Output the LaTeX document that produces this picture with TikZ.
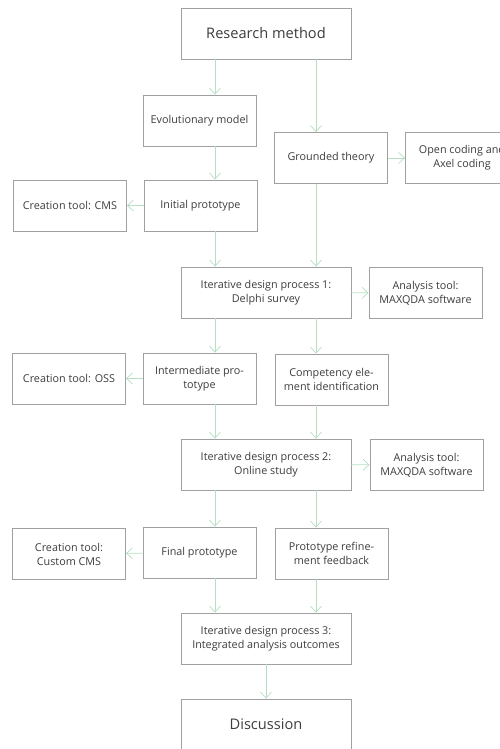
\documentclass[tikz,border=0pt]{standalone}
\usepackage{fontspec}
\setmainfont{Open Sans}
\usetikzlibrary{arrows.meta}
\definecolor{boxgray}{HTML}{A0A0A0}
\definecolor{textgray}{HTML}{3C3C3C}
\definecolor{arrgreen}{HTML}{B6DEC2}
\begin{document}
\begin{tikzpicture}[x=1pt,y=-1pt,
  box/.style={draw=boxgray,line width=.9pt,text=textgray,align=center,
    font=\fontsize{10.8}{14}\selectfont,inner sep=0pt,
    minimum width=113pt,minimum height=51pt},
  widebox/.style={box,minimum width=170pt},
  bigbox/.style={widebox,font=\fontsize{14.6}{17}\selectfont},
  arr/.style={draw=arrgreen,line width=.7pt,-{Straight Barb[length=6pt,width=11pt]}}]
\useasboundingbox (0,0) rectangle (500,749);
\coordinate (lcol) at (215,0);
\coordinate (rcol) at (316,0);
\node [bigbox] (rm) at (266,33.5) {Research method};
\node [box] (evo) at (199.5,120.5) {Evolutionary model};
\node [box] (gt) at (331,158) {Grounded theory};
\node [box] (oc) at (462,158) {Open coding and\\Axel coding};
\node [box] (ip) at (200.5,205.5) {Initial prototype};
\node [box] (cms) at (70,205.5) {Creation tool: CMS};
\node [widebox] (idp1) at (266,292.5) {Iterative design process 1:\\Delphi survey};
\node [box] (at1) at (425.5,293) {Analysis tool:\\MAXQDA software};
\node [box] (imp) at (199.5,378.5) {Intermediate pro-\\totype};
\node [box] (oss) at (69,378.5) {Creation tool: OSS};
\node [box] (ce) at (331.5,379.5) {Competency ele-\\ment identification};
\node [widebox] (idp2) at (266,464.5) {Iterative design process 2:\\Online study};
\node [box] (at2) at (426.5,465) {Analysis tool:\\MAXQDA software};
\node [box] (fp) at (199.5,552.5) {Final prototype};
\node [box] (ccms) at (69,554) {Creation tool:\\Custom CMS};
\node [box] (prf) at (331.5,553.5) {Prototype refine-\\ment feedback};
\node [widebox] (idp3) at (266,638.5) {Iterative design process 3:\\Integrated analysis outcomes};
\node [bigbox] (disc) at (266,724.5) {Discussion};
\draw [arr] (rm.south -| lcol) -- (evo.north -| lcol);
\draw [arr] (rm.south -| rcol) -- (gt.north -| rcol);
\draw [arr] (evo.south -| lcol) -- (ip.north -| lcol);
\draw [arr] (gt) -- (oc);
\draw [arr] (ip) -- (cms);
\draw [arr] (ip.south -| lcol) -- (idp1.north -| lcol);
\draw [arr] (gt.south -| rcol) -- (idp1.north -| rcol);
\draw [arr] (idp1) -- (at1);
\draw [arr] (idp1.south -| lcol) -- (imp.north -| lcol);
\draw [arr] (idp1.south -| rcol) -- (ce.north -| rcol);
\draw [arr] (imp) -- (oss);
\draw [arr] (imp.south -| lcol) -- (idp2.north -| lcol);
\draw [arr] (ce.south -| rcol) -- (idp2.north -| rcol);
\draw [arr] (idp2) -- (at2);
\draw [arr] (idp2.south -| lcol) -- (fp.north -| lcol);
\draw [arr] (idp2.south -| rcol) -- (prf.north -| rcol);
\draw [arr] (fp) -- (ccms);
\draw [arr] (fp.south -| lcol) -- (idp3.north -| lcol);
\draw [arr] (prf.south -| rcol) -- (idp3.north -| rcol);
\draw [arr] (idp3) -- (disc);
\end{tikzpicture}
\end{document}
